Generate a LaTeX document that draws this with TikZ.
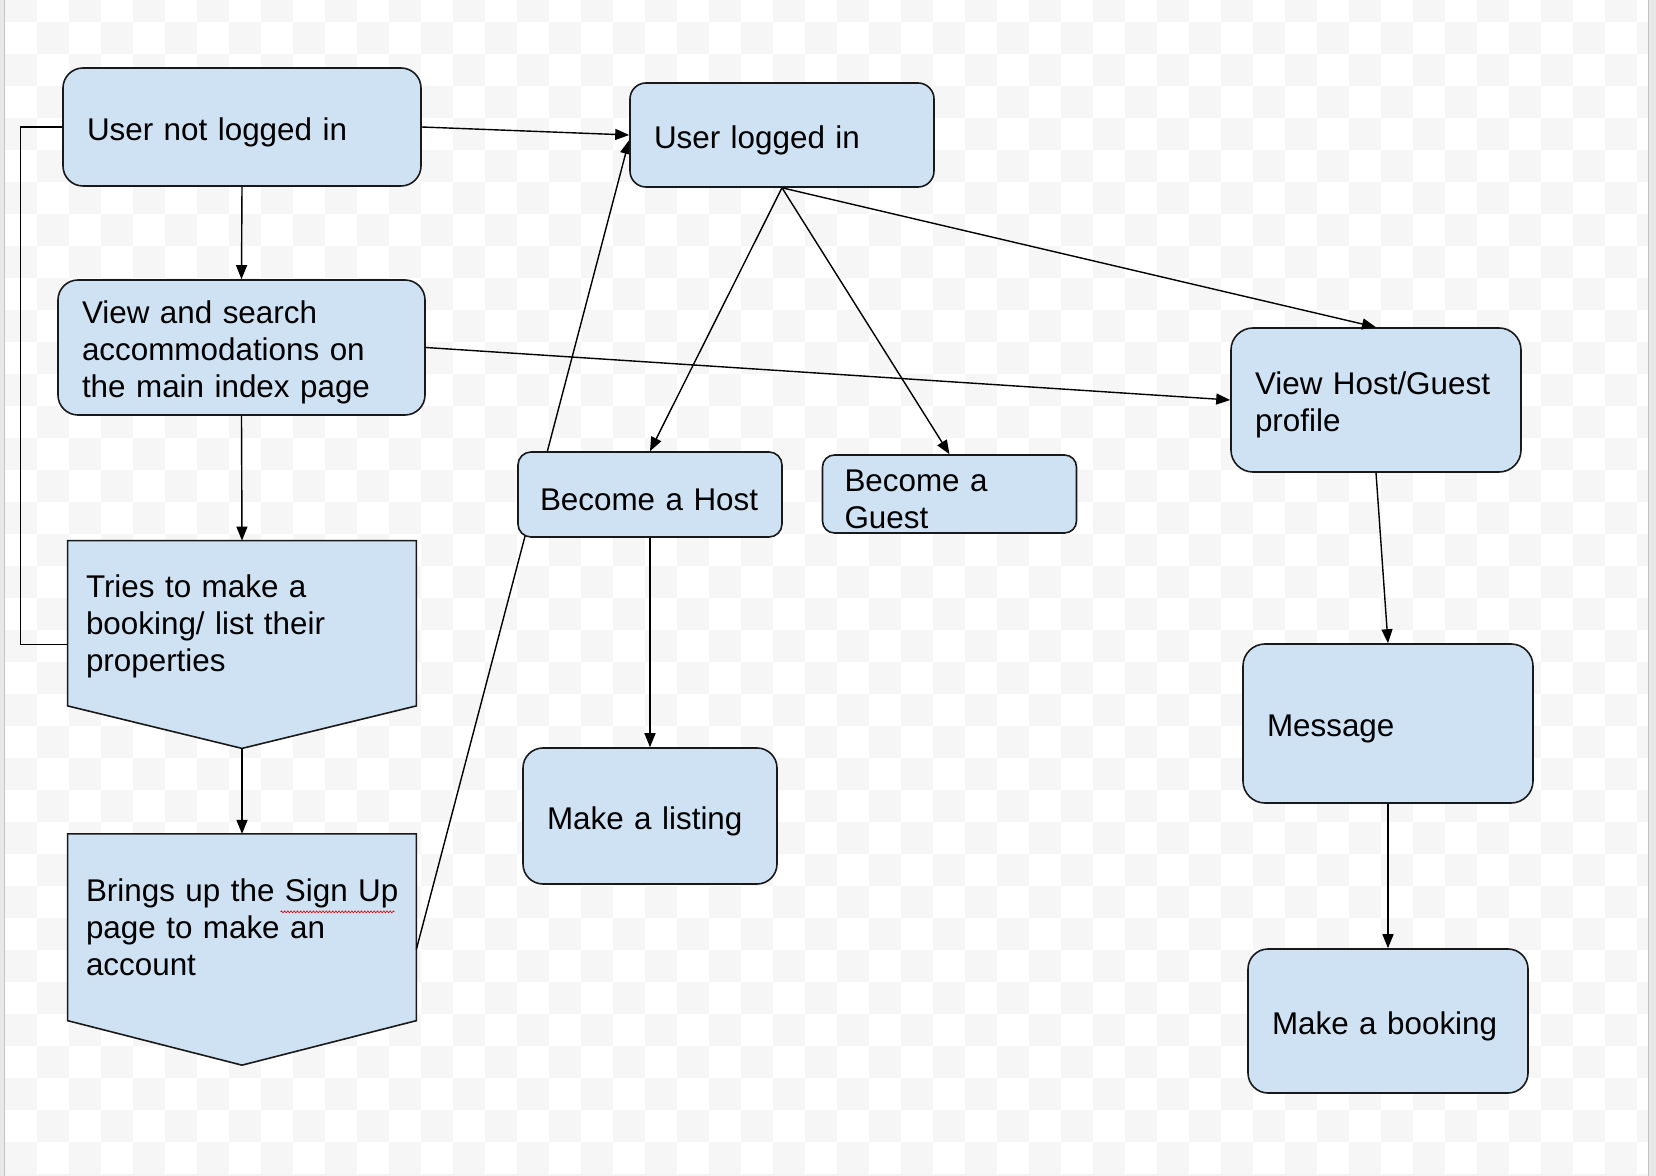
\documentclass[tikz,border=0pt]{standalone}
\usepackage{fontspec}
\setmainfont{Liberation Sans}
\usetikzlibrary{arrows.meta,calc,decorations.pathmorphing}

\definecolor{boxblue}{HTML}{CFE2F3}
\definecolor{checker}{HTML}{F6F6F6}
\definecolor{frameline}{HTML}{C4C4C4}
\definecolor{framefill}{HTML}{E8E8E8}

\pgfdeclarelayer{grid}
\pgfdeclarelayer{under}
\pgfsetlayers{grid,under,main}

\tikzset{
  textdrop/.style={execute at begin node={\rule{0pt}{#1}}},
  flowbox/.style={draw=black!90, fill=boxblue, line width=0.8pt, rounded corners=10pt,
    align=left, inner xsep=12pt, inner ysep=0pt, font=\fontsize{15.7}{18.5}\selectfont,
    textdrop=16.3pt},
  pentbox/.style={align=left, inner xsep=9pt, inner ysep=0pt, font=\fontsize{15.7}{18.5}\selectfont},
  pentline/.style={draw=black!90, fill=boxblue, line width=0.8pt, line join=miter},
  flowline/.style={draw, line width=0.7pt}
}

\begin{document}
\begin{tikzpicture}[x=0.5pt,y=-0.5pt]

        \useasboundingbox (0,0) rectangle (1656,1176);

        % checkered canvas and page frame
        \begin{pgfonlayer}{grid}
          \fill[white] (0,0) rectangle (1656,1176);
          \begin{scope}
            \clip (5,0) rectangle (1648,1174);
            \foreach \j in {0,...,37} {
              \pgfmathtruncatemacro\k{mod(\j,2)}
              \foreach \i in {0,2,...,50}
                \fill[checker] ({5+32*(\i+\k)},{-10+32*\j}) rectangle ++(32,32);
            }
          \end{scope}
          \fill[framefill] (0,0) rectangle (4,1176);
          \fill[framefill] (1649,0) rectangle (1656,1176);
          \fill[framefill!50] (5,1174) rectangle (1648,1176);
          \draw[frameline, line width=0.8pt] (4.5,0) -- (4.5,1176);
          \draw[frameline, line width=0.8pt] (1648.5,0) -- (1648.5,1176);
        \end{pgfonlayer}

        \begin{scope}[every node/.style={flowbox}]
          \node[minimum width=179pt, minimum height=59pt, text width=155pt] (unli) at (242,127) {User not logged in};
          \node[minimum width=152pt, minimum height=52pt, text width=128pt, rounded corners=8pt] (uli) at (782,135) {User logged in};
          \node[minimum width=183.5pt, minimum height=67.5pt, text width=159.5pt] (view) at (241.5,347.5) {View and search\\accommodations on\\the main index page};
          \node[minimum width=132pt, minimum height=42.5pt, text width=110pt, inner xsep=11pt, rounded corners=6.5pt, textdrop=13.4pt] (host) at (650,494.5) {Become a Host};
          \node[minimum width=127pt, minimum height=39pt, text width=105pt, inner xsep=11pt, rounded corners=6pt, textdrop=13.4pt] (guest) at (949.5,494) {Become a\\Guest};
          \node[minimum width=127pt, minimum height=68pt, text width=103pt] (listing) at (650,816) {Make a listing};
          \node[minimum width=145pt, minimum height=72pt, text width=121pt, rounded corners=11pt] (vhg) at (1376,400) {View Host/Guest\\profile};
          \node[minimum width=145pt, minimum height=79.5pt, text width=121pt, rounded corners=11pt] (msg) at (1388,723.5) {Message};
          \node[minimum width=140pt, minimum height=72pt, text width=116pt] (booking) at (1388,1021) {Make a booking};
        \end{scope}

        \begin{scope}[every node/.style={pentbox}]
          \node[minimum width=174pt, minimum height=82.25pt, text width=156pt, textdrop=14.5pt] (tries) at (242,623.25) {Tries to make a\\booking/ list their\\properties};
          \node[minimum width=174pt, minimum height=93pt, text width=156pt] (brings) at (242,927.25) {\mbox{Brings up the Sign Up}\\page to make an\\account};
        \end{scope}

        \coordinate (triestip) at ($(tries.south)+(0,42.5)$);
        \coordinate (bringstip) at ($(brings.south)+(0,44.5)$);

        \begin{pgfonlayer}{under}
          \path[pentline] (tries.north west) -- (tries.north east) -- (tries.south east)
            -- (triestip) -- (tries.south west) -- cycle;
          \path[pentline] (brings.north west) -- (brings.north east) -- (brings.south east)
            -- (bringstip) -- (brings.south west) -- cycle;
        \end{pgfonlayer}

        % spell check mark
        \draw[red!85!black, line width=0.3pt, decorate, decoration={zigzag, segment length=1.6pt, amplitude=0.5pt}]
          ($(brings.north west)+(213,78)$) -- ++(114,0);

        \begin{scope}[every edge/.style={flowline, -{Triangle[length=7pt,width=5.5pt]}}]
          \path (unli.east)  edge (uli.west);
          \path (unli.south) edge (view.north);
          \path (view.south) edge (tries.north);
          \path (triestip)   edge (brings.north);
          \path (view.east)  edge (vhg.west);
          \path (uli.south)  edge (host.north);
          \path (uli.south)  edge (guest.north);
          \path (uli.south)  edge (vhg.north);
          \path (host.south) edge (listing.north);
          \path (vhg.south)  edge (msg.north);
          \path (msg.south)  edge (booking.north);
          \begin{pgfonlayer}{under}
            \path ($(brings.east)+(0,22)$) edge ($(uli.west)+(0,5)$);
          \end{pgfonlayer}
        \end{scope}

        \draw[flowline] (unli.west) -- ++(-42,0) |- ($(tries.west)+(0,21)$);

      \end{tikzpicture}
\end{document}
